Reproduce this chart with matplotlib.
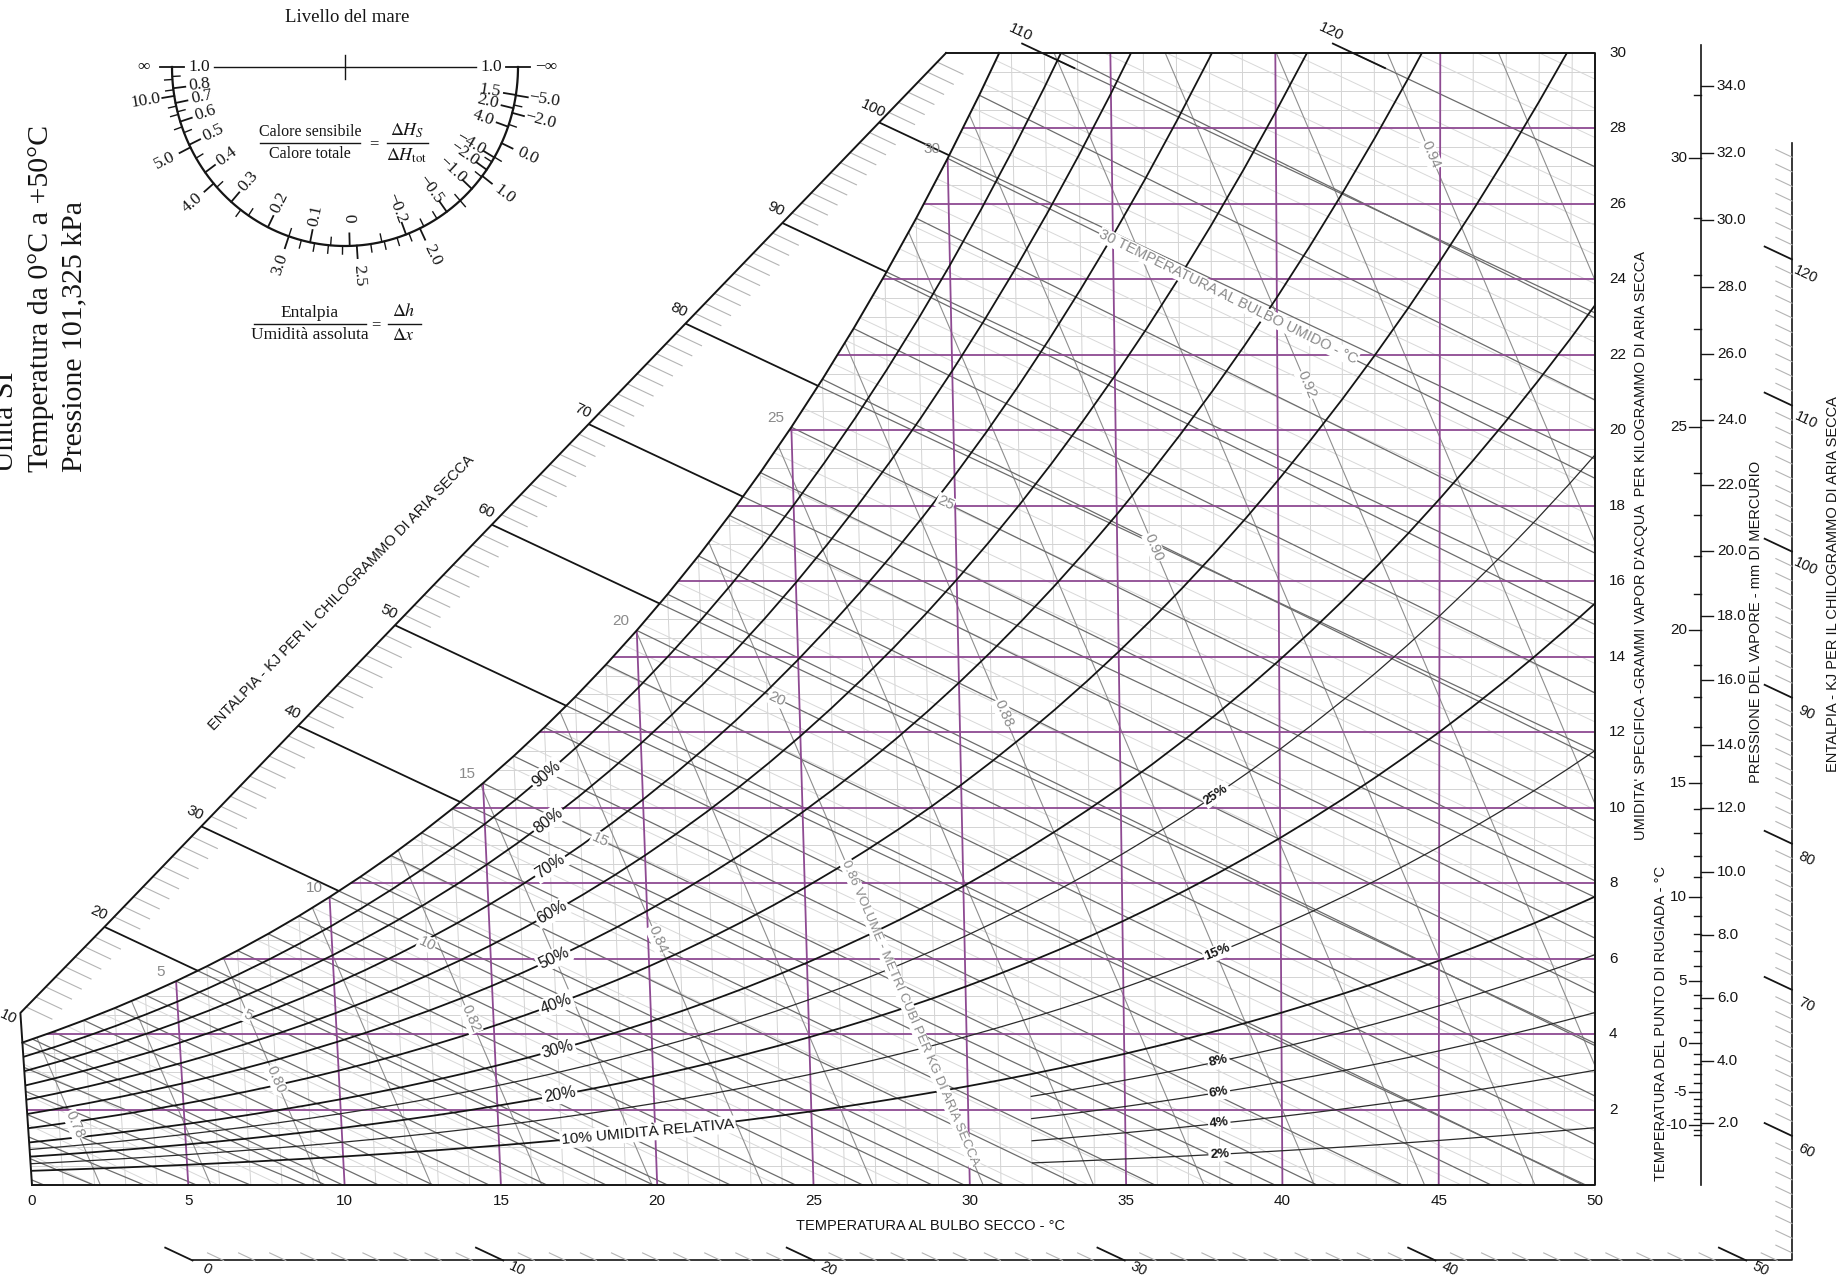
import numpy as np
import matplotlib
matplotlib.use("Agg")
import matplotlib.pyplot as plt
from matplotlib.patches import Polygon

plt.rcParams['font.family'] = ['Liberation Sans', 'DejaVu Sans']
SERIF = ['Liberation Serif', 'DejaVu Serif']
plt.rcParams['mathtext.fontset'] = 'stix'

# ---------------- data ----------------
P_ATM = 101.325          # kPa
P_MMHG = 760.0
T_TAB = list(range(-12, 51))   # deg C (ice below 0)
PSAT = [0.2172, 0.2376, 0.2599, 0.2839, 0.3100, 0.3380, 0.3681, 0.4018, 0.4375, 0.4760, 0.5177, 0.5627,
        0.6112, 0.6571, 0.7060, 0.7580, 0.8135, 0.8725, 0.9353, 1.0020, 1.0729, 1.1481,
        1.2280, 1.3128, 1.4026, 1.4979, 1.5987, 1.7055, 1.8185, 1.9380, 2.0643, 2.1979,
        2.3389, 2.4878, 2.6448, 2.8105, 2.9852, 3.1693, 3.3633, 3.5674, 3.7823, 4.0084,
        4.2462, 4.4961, 4.7586, 5.0345, 5.3242, 5.6280, 5.9468, 6.2812, 6.6315, 6.9988,
        7.3838, 7.7866, 8.2081, 8.6495, 9.1110, 9.5935, 10.098, 10.624, 11.175, 11.749, 12.349]

RH_MAIN = [90, 80, 70, 60, 50, 40, 30, 20, 10]
RH_THIN = [25, 15]
RH_LOW = [8, 6, 4, 2]
WB_TEMPS = list(range(-6, 33))
WB_LABELS = [5, 10, 15, 20, 25, 30]
ENTH_SCALE = list(range(10, 110, 10))
ENTH_TOP = [110, 120]
ENTH_BOTTOM = [0, 10, 20, 30, 40, 50]
ENTH_RIGHT = [60, 70, 80, 90, 100, 110, 120]
VOLUMES = [0.77, 0.78, 0.79, 0.80, 0.81, 0.82, 0.83, 0.84, 0.85, 0.86, 0.87, 0.88,
           0.89, 0.90, 0.91, 0.92, 0.93, 0.94, 0.95]
VOL_LABELS = [0.78, 0.80, 0.82, 0.84, 0.86, 0.88, 0.90, 0.92, 0.94]
DB_TICKS = [0, 5, 10, 15, 20, 25, 30, 35, 40, 45, 50]
W_TICKS = [2, 4, 6, 8, 10, 12, 14, 16, 18, 20, 22, 24, 26, 28, 30]
DEW_TICKS = [-10, -5, 0, 5, 10, 15, 20, 25, 30]
VP_TICKS = [2.0, 4.0, 6.0, 8.0, 10.0, 12.0, 14.0, 16.0, 18.0, 20.0, 22.0, 24.0,
            26.0, 28.0, 30.0, 32.0, 34.0]
SHR_LEFT = [1.0, 0.8, 0.7, 0.6, 0.5, 0.4, 0.3, 0.2, 0.1, 0.0, -0.2, -0.5, -1.0, -2.0, -4.0]
SHR_RIGHT = [4.0, 2.0, 1.5, 1.0]
SHR_MINOR = [0.9, 0.65, 0.55, 0.45, 0.35, 0.25, 0.15, 0.05, -0.1, -0.3, -0.4, -0.7, -1.5, -3.0]
Q_LABELS = [np.inf, 10.0, 5.0, 4.0, 3.0, 2.5, 2.0, 1.0, 0.0, -2.0, -5.0, -np.inf]
Q_MINOR = [20.0, 12.0, 8.0, 7.0, 6.0, 3.5, 2.9, 2.8, 2.7, 2.6, 2.4, 2.3, 2.2, 2.1, 1.5, 0.5, -1.0, -3.0]

# ---------------- geometry ----------------
A_OBL = 2583.0           # kJ/kg shear of the oblique temperature axis
HG = 2.55                # kJ/g used by the protractor
PX_T = (1595 - 32) / 50.0      # px per deg C
PX_W = (1185 - 53) / 30.0      # px per g/kg
CORNER_W = 4.56
W20, W100 = 6.84, 28.16        # enthalpy scale anchors (g/kg at h=20, h=100)
X_DP = 53.4
X_RS = 56.3
W_BS = -2.0

PURPLE = '#8e4a92'
GRID = '#d3d3d3'
FAINT = '#d8d8d8'
DARK = '#6c6c6c'
VOLC = '#8e8e8e'
INK = '#151515'
LAB = '#8a8a8a'
TITLE_FS = 10.5

fig = plt.figure(figsize=(18.49, 12.79), dpi=100)
ax = fig.add_axes([0, 0, 1, 1])
ax.set_xlim(-32 / PX_T, (1849 - 32) / PX_T)
ax.set_ylim((1185 - 1279) / PX_W, 1185 / PX_W)
ax.axis('off')

t_tab = np.array(T_TAB, float)
ps_tab = np.array(PSAT)
ws_tab = 622.0 * ps_tab / (P_ATM - ps_tab)
pos = t_tab >= 0
ts, ps_pos, wsat = t_tab[pos], ps_tab[pos], ws_tab[pos]


def xo(t, w):
    return t + w * (2501.0 + 1.86 * t - A_OBL) / 1006.0


def xh(h, w):
    return (h - A_OBL * w / 1000.0) / 1.006


def angle(x0, y0, x1, y1):
    p0 = ax.transData.transform((x0, y0))
    p1 = ax.transData.transform((x1, y1))
    a = np.degrees(np.arctan2(p1[1] - p0[1], p1[0] - p0[0]))
    if a > 90:
        a -= 180
    if a < -90:
        a += 180
    return a


# chart region and the strip between the enthalpy scale and saturation
t_top = np.interp(30.0, wsat, ts)
keep = ts < t_top
sat_x, sat_w = xo(ts[keep], wsat[keep]), wsat[keep]
top_x = xo(t_top, 30.0)
sat_back = list(zip(sat_x[::-1], sat_w[::-1]))
chart_clip = Polygon([(0, 0), (50, 0), (50, 30), (top_x, 30)] + sat_back,
                     closed=True, transform=ax.transData, fc='none', ec='none')
ax.add_patch(chart_clip)

corner = (xo(0, CORNER_W), CORNER_W)
h_corner = 1.006 * corner[0] + A_OBL * CORNER_W / 1000
h_top = 20 + (30 - W20) * 80 / (W100 - W20)
p20 = (xh(20, W20), W20)
ptop = (xh(h_top, 30), 30)
margin_clip = Polygon([corner, p20, ptop, (top_x, 30)] + sat_back,
                      closed=True, transform=ax.transData, fc='none', ec='none')
ax.add_patch(margin_clip)


def scale_w(h):
    if h >= 20:
        return W20 + (h - 20) * (W100 - W20) / 80
    return CORNER_W + (h - h_corner) * (W20 - CORNER_W) / (20 - h_corner)


def clipped(x, y, clip, **kw):
    ln, = ax.plot(x, y, solid_capstyle='butt', **kw)
    ln.set_clip_path(clip)
    return ln


# light grid
for t in range(1, 50):
    if t % 5:
        clipped([xo(t, 0), xo(t, 31)], [0, 31], chart_clip, color=GRID, lw=0.7, zorder=1)
for w in np.arange(0.5, 30, 0.5):
    if w % 2:
        clipped([-1, 51], [w, w], chart_clip, color=GRID, lw=0.7, zorder=1)

# faint enthalpy lines
for h in range(2, 132, 2):
    if h % 10:
        clipped([xh(h, -1), xh(h, 31)], [-1, 31], chart_clip, color=FAINT, lw=0.7, zorder=1.2)

# specific volume lines
wv = np.linspace(-0.5, 31, 20)
vol_lines = {}
for v in VOLUMES:
    tk = v * P_ATM / (0.287042 * (1 + 1.6078 * wv / 1000)) - 273.15
    vol_lines[v] = (xo(tk, wv), wv)
    clipped(xo(tk, wv), wv, chart_clip, color=VOLC, lw=0.8, zorder=2)


# wet bulb lines
def wb_line(twb):
    Ws = ws_tab[T_TAB.index(twb)] / 1000
    t = np.linspace(twb, twb + 60, 120)
    if twb >= 0:
        w = ((2501 - 2.326 * twb) * Ws - 1.006 * (t - twb)) / (2501 + 1.86 * t - 4.186 * twb)
    else:
        w = ((2830 - 0.24 * twb) * Ws - 1.006 * (t - twb)) / (2830 + 1.86 * t - 2.1 * twb)
    w = w * 1000
    k = w > -1
    return t[k], w[k]


for twb in WB_TEMPS:
    t, w = wb_line(twb)
    clipped(xo(t, w), w, chart_clip, color=DARK, lw=0.9, zorder=2.5)

# enthalpy lines every 10 inside the chart
for h in range(10, 130, 10):
    clipped([xh(h, -1), xh(h, 31)], [-1, 31], chart_clip, color=DARK, lw=0.9, zorder=2.5)

# purple dry-bulb and humidity lines
for t in DB_TICKS[1:-1]:
    clipped([xo(t, 0), xo(t, 31)], [0, 31], chart_clip, color=PURPLE, lw=1.3, zorder=3)
for w in W_TICKS[:-1]:
    clipped([-1, 51], [w, w], chart_clip, color=PURPLE, lw=1.3, zorder=3)


# relative humidity curves
def rh_curve(phi, tmin=0):
    sel = ts >= tmin
    pv = phi / 100.0 * ps_pos[sel]
    w = 622.0 * pv / (P_ATM - pv)
    return xo(ts[sel], w), w, ts[sel]


def curve_label(phi, t_at, text, ha='center', **kw):
    x, w, tt = rh_curve(phi)
    i = list(tt).index(t_at)
    rot = angle(x[i - 1], w[i - 1], x[i + 1], w[i + 1])
    ax.text(x[i], w[i], text, rotation=rot, rotation_mode='anchor', ha=ha, va='center',
            zorder=7, bbox=dict(boxstyle='square,pad=0.12', fc='white', ec='none'), **kw)


for phi in RH_MAIN:
    x, w, _ = rh_curve(phi)
    clipped(x, w, chart_clip, color=INK, lw=1.3, zorder=4)
for phi in RH_THIN:
    x, w, _ = rh_curve(phi)
    clipped(x, w, chart_clip, color='#2a2a2a', lw=0.9, zorder=4)
for phi in RH_LOW:
    x, w, _ = rh_curve(phi, 32)
    clipped(x, w, chart_clip, color='#2a2a2a', lw=0.9, zorder=4)

for phi in RH_MAIN[:-1]:
    curve_label(phi, 17, f'{phi}%', fontsize=11.5, color=INK)
curve_label(10, 17, '10% UMIDITÀ RELATIVA', ha='left', fontsize=11, color=INK)
for phi in RH_THIN + RH_LOW:
    curve_label(phi, 38, f'{phi}%', fontsize=9.5, color=INK, fontweight='bold')

# chart outline, saturation curve and enthalpy scale
ax.plot(np.append(sat_x, top_x), np.append(sat_w, 30), color=INK, lw=1.4, zorder=5)
ax.plot([0, 50, 50, ptop[0]], [0, 0, 30, 30], color=INK, lw=1.4, zorder=5)
ax.plot([0, corner[0], p20[0], ptop[0]], [0, corner[1], p20[1], ptop[1]], color=INK, lw=1.4, zorder=5)

rot_h = angle(xh(50, 10), 10, xh(50, 0), 0)
for h in range(12, int(h_top) + 1):
    ws_ = scale_w(h)
    if h % 10 == 0:
        clipped([xh(h, ws_), xh(h, -2)], [ws_, -2], margin_clip, color=INK, lw=1.3, zorder=5)
    else:
        ax.plot([xh(h, ws_), xh(h, ws_ - 0.32)], [ws_, ws_ - 0.32], color='#b4b4b4', lw=0.8, zorder=4)
for h in ENTH_SCALE:
    if h == 10:
        ax.text(corner[0] - 0.4, corner[1] - 0.12, '10', rotation=rot_h, rotation_mode='anchor',
                ha='center', va='center', fontsize=11, color=INK)
        continue
    pw = scale_w(h)
    px = xh(h, pw)
    ax.text(px - 0.2, pw + 0.36, str(h), rotation=rot_h, rotation_mode='anchor',
            ha='center', va='center', fontsize=11, color=INK)
for h in ENTH_TOP:
    ax.plot([xh(h, 30.25), xh(h, 29.6)], [30.25, 29.6], color=INK, lw=1.3, zorder=5)
    ax.text(xh(h, 30) - 0.69, 30.55, str(h), rotation=rot_h, rotation_mode='anchor',
            ha='center', va='center', fontsize=11, color=INK)

# wet bulb labels
for twb in WB_LABELS:
    ws_b = ws_tab[T_TAB.index(twb)]
    ax.text(xo(twb, ws_b) - 0.5, ws_b + 0.25, str(twb), ha='center', va='center',
            fontsize=11, color=LAB, zorder=7)
WB_INNER_T = {5: 7.2, 10: 13.0, 15: 18.6, 20: 24.3, 25: 29.7}
for twb, tl in WB_INNER_T.items():
    t, w = wb_line(twb)
    xl = np.interp(tl, t, xo(t, w))
    wl = np.interp(tl, t, w)
    ax.text(xl, wl, str(twb), rotation=rot_h, rotation_mode='anchor', ha='center', va='center',
            fontsize=11, color=LAB, zorder=7,
            bbox=dict(boxstyle='square,pad=0.05', fc='white', ec='none'))
t, w = wb_line(30)
rot_wb = angle(xo(t[0], w[0]), w[0], xo(t[-1], w[-1]), w[-1])
ax.text(np.interp(34.6, t, xo(t, w)), np.interp(34.6, t, w), '30 TEMPERATURA AL BULBO UMIDO - °C',
        rotation=rot_wb, rotation_mode='anchor', ha='left', va='center', fontsize=10.5,
        color=LAB, zorder=7, bbox=dict(boxstyle='square,pad=0.05', fc='white', ec='none'))

# volume labels
VOL_LABEL_W = {0.78: 1.6, 0.80: 2.8, 0.82: 4.4, 0.84: 6.5, 0.86: 8.6,
               0.88: 12.5, 0.90: 16.9, 0.92: 21.2, 0.94: 27.3}
for v in VOL_LABELS:
    xv, wv_ = vol_lines[v]
    rot_v = angle(xv[-1], wv_[-1], xv[0], wv_[0])
    wl = VOL_LABEL_W[v]
    xl = np.interp(wl, wv_, xv)
    if v == 0.86:
        ax.text(xl, wl, '0.86 VOLUME - METRI CUBI PER KG DI ARIA SECCA', rotation=rot_v,
                rotation_mode='anchor', ha='left', va='center', fontsize=9.6, color=LAB, zorder=7,
                bbox=dict(boxstyle='square,pad=0.05', fc='white', ec='none'))
    else:
        ax.text(xl, wl, f'{v:.2f}', rotation=rot_v, rotation_mode='anchor', ha='center',
                va='center', fontsize=10.5, color=LAB, zorder=7,
                bbox=dict(boxstyle='square,pad=0.05', fc='white', ec='none'))

# axes labels
for t in DB_TICKS:
    ax.text(t, -0.42, str(t), ha='center', va='center', fontsize=11, color=INK)
ax.text(28.75, -1.09, 'TEMPERATURA AL BULBO SECCO - °C', ha='center', va='center',
        fontsize=TITLE_FS, color=INK)
for w in W_TICKS:
    ax.text(50.45, w, str(w), ha='left', va='center', fontsize=11, color=INK)
ax.text(51.46, 16.96, "UMIDITA' SPECIFICA -GRAMMI VAPOR D'ACQUA  PER KILOGRAMMO DI ARIA SECCA",
        rotation=90, ha='center', va='center', fontsize=TITLE_FS, color=INK)

# dew point / vapour pressure scale
ax.plot([X_DP, X_DP], [0, 30.2], color=INK, lw=1.2)
for td in range(-12, 32):
    wd = ws_tab[T_TAB.index(td)]
    L = 0.38 if td % 5 == 0 else 0.24
    ax.plot([X_DP - L, X_DP], [wd, wd], color=INK, lw=1.0)
for td in DEW_TICKS:
    wd = ws_tab[T_TAB.index(td)]
    ax.text(X_DP - 0.45, wd, str(td), ha='right', va='center', fontsize=11, color=INK)
for p in VP_TICKS:
    wp = 622.0 * p / (P_MMHG - p)
    ax.plot([X_DP, X_DP + 0.38], [wp, wp], color=INK, lw=1.0)
    ax.text(X_DP + 0.5, wp, f'{p:.1f}', ha='left', va='center', fontsize=11, color=INK)
ax.text(52.12, 4.29, 'TEMPERATURA DEL PUNTO DI RUGIADA - °C', rotation=90, ha='center',
        va='center', fontsize=TITLE_FS, color=INK)
ax.text(55.16, 14.92, 'PRESSIONE DEL VAPORE - mm DI MERCURIO', rotation=90, ha='center',
        va='center', fontsize=TITLE_FS, color=INK)

# outer enthalpy scale (bottom and right)
h_bc = 1.006 * X_RS + A_OBL * W_BS / 1000
w_rt = (128 - 1.006 * X_RS) * 1000 / A_OBL
ax.plot([xh(0, W_BS), X_RS, X_RS], [W_BS, W_BS, w_rt], color=INK, lw=1.2)
for h in range(0, 128):
    if h <= h_bc:
        bw = W_BS
    else:
        bw = (h - 1.006 * X_RS) * 1000 / A_OBL
    bx = xh(h, bw)
    major = h % 10 == 0
    L = 0.34 if major else 0.2
    ax.plot([bx, xh(h, bw + L)], [bw, bw + L], color=INK if major else '#b4b4b4',
            lw=1.3 if major else 0.8)
    if major and h in ENTH_BOTTOM and h <= h_bc:
        ax.text(bx + 0.45, bw - 0.22, str(h), rotation=rot_h, rotation_mode='anchor',
                ha='center', va='center', fontsize=10.5, color=INK)
    elif major and h in ENTH_RIGHT:
        ax.text(bx + 0.45, bw - 0.4, str(h), rotation=rot_h, rotation_mode='anchor',
                ha='center', va='center', fontsize=10.5, color=INK)
ax.text(57.6, 15.93, 'ENTALPIA - KJ PER IL CHILOGRAMMO DI ARIA SECCA', rotation=90,
        ha='center', va='center', fontsize=TITLE_FS, color=INK)
rot_s = angle(p20[0], p20[1], ptop[0], ptop[1])
ax.text(9.91, 15.69, 'ENTALPIA - KJ PER IL CHILOGRAMMO DI ARIA SECCA', rotation=rot_s,
        rotation_mode='anchor', ha='center', va='center', fontsize=TITLE_FS, color=INK)

# ---------------- protractor and side notes (pixel coordinates) ----------------
ax2 = fig.add_axes([0, 0, 1, 1])
ax2.set_xlim(0, 1849)
ax2.set_ylim(1279, 0)
ax2.axis('off')
ax2.patch.set_visible(False)

CX, CY, RX, RY = 345, 67, 173, 179


def prot_theta(q):
    if q == np.inf:
        return -np.pi
    if q == -np.inf:
        return 0.0
    return np.arctan2(-PX_W, -PX_T * (q - A_OBL / 1000) / 1.006)


def prot_pt(th, r):
    return CX + r * RX * np.cos(th), CY - r * RY * np.sin(th)


def shr_q(s, right=False):
    if s == 1.0:
        return -np.inf if right else np.inf
    return HG / (1 - s)


def radial_rot(th):
    a = np.degrees(th)
    return a + 180 if a < -90 else a


th = np.linspace(-np.pi, 0, 300)
ax2.plot(*prot_pt(th, 1.0), color=INK, lw=1.6)
ax2.plot([CX - 0.76 * RX, CX + 0.76 * RX], [CY, CY], color=INK, lw=1.0)
ax2.plot([CX, CX], [CY - 12, CY + 12], color=INK, lw=1.0)


def tick(thv, r0, r1, lw=1.3):
    x0, y0 = prot_pt(thv, r0)
    x1, y1 = prot_pt(thv, r1)
    ax2.plot([x0, x1], [y0, y1], color=INK, lw=lw)


def shr_text(s):
    if s == 0:
        return '0'
    return f'{s:.1f}'.replace('-', '\u2212')


for s in SHR_LEFT:
    thv = prot_theta(shr_q(s))
    tick(thv, 0.93, 1.0)
    x, y = prot_pt(thv, 0.845)
    ax2.text(x, y, shr_text(s), rotation=radial_rot(thv), rotation_mode='anchor',
             ha='center', va='center', fontsize=12.5, family=SERIF, color=INK)
for s in SHR_RIGHT:
    thv = prot_theta(shr_q(s, right=True))
    tick(thv, 0.93, 1.0)
    x, y = prot_pt(thv, 0.845)
    ax2.text(x, y, shr_text(s), rotation=radial_rot(thv), rotation_mode='anchor',
             ha='center', va='center', fontsize=12.5, family=SERIF, color=INK)
for s in SHR_MINOR:
    tick(prot_theta(shr_q(s)), 0.955, 1.0, lw=1.0)


def q_text(q):
    if q == np.inf:
        return '\u221e'
    if q == -np.inf:
        return '\u2212\u221e'
    return f'{q:.1f}'.replace('-', '\u2212')


for q in Q_LABELS:
    thv = prot_theta(q)
    tick(thv, 1.0, 1.07)
    x, y = prot_pt(thv, 1.165)
    ax2.text(x, y, q_text(q), rotation=radial_rot(thv), rotation_mode='anchor',
             ha='center', va='center', fontsize=12.5, family=SERIF, color=INK)
for q in Q_MINOR:
    tick(prot_theta(q), 1.0, 1.045, lw=1.0)

ax2.text(347, 18, 'Livello del mare', ha='center', va='center', fontsize=13.5,
         family=SERIF, color=INK)
ax2.text(310, 132, 'Calore sensibile', ha='center', va='center', fontsize=11.5,
         family=SERIF, color=INK)
ax2.text(310, 154, 'Calore totale', ha='center', va='center', fontsize=11.5,
         family=SERIF, color=INK)
ax2.plot([260, 360], [143, 143], color=INK, lw=1.0)
ax2.text(374, 144, '=', ha='center', va='center', fontsize=12, family=SERIF, color=INK)
ax2.text(407, 131, r'$\Delta H_S$', ha='center', va='center', fontsize=13, color=INK)
ax2.text(407, 156, r'$\Delta H_{\rm tot}$', ha='center', va='center', fontsize=13, color=INK)
ax2.plot([387, 428], [143, 143], color=INK, lw=1.0)

ax2.text(310, 313, 'Entalpia', ha='center', va='center', fontsize=12.5, family=SERIF, color=INK)
ax2.text(310, 335, 'Umidità assoluta', ha='center', va='center', fontsize=12.5,
         family=SERIF, color=INK)
ax2.plot([254, 366], [324, 324], color=INK, lw=1.0)
ax2.text(376, 325, '=', ha='center', va='center', fontsize=12, family=SERIF, color=INK)
ax2.text(404, 312, r'$\Delta h$', ha='center', va='center', fontsize=13, color=INK)
ax2.text(404, 336, r'$\Delta x$', ha='center', va='center', fontsize=13, color=INK)
ax2.plot([388, 421], [324, 324], color=INK, lw=1.0)

for xc, txt in [(6, 'Unità SI'), (41, 'Temperatura da 0°C a +50°C'), (74, 'Pressione 101,325 kPa')]:
    ax2.text(xc, 472, txt, rotation=90, rotation_mode='anchor', ha='left', va='center',
             fontsize=21.5, family=SERIF, color=INK)

fig.savefig('out.png', dpi=100)
